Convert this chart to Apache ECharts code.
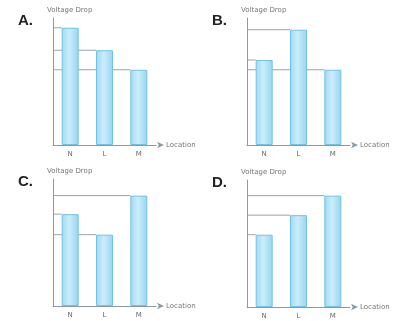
<!DOCTYPE html>
<html>
<head>
<meta charset="utf-8">
<script src="https://cdn.jsdelivr.net/npm/echarts@6/dist/echarts.min.js"></script>
<style>
  html, body { margin: 0; padding: 0; background: #fff; }
  #chart { width: 394px; height: 321px; }
</style>
</head>
<body>
<div id="chart"></div>
<script>
// panel data
const categories = ['N', 'L', 'M'];
const panelNames = ['A.', 'B.', 'C.', 'D.'];
const valuesA = [120, 97, 77];
const valuesB = [87, 118, 77];
const valuesC = [94, 73, 113];
const valuesD = [74, 94, 114];
const yTitle = 'Voltage Drop';
const xTitle = 'Location';

const panels = [valuesA, valuesB, valuesC, valuesD];
// grid positions: [left, top]
const gridPos = [[53, 18], [247, 18], [53, 179], [247, 180]];

const myChart = echarts.init(document.getElementById('chart'));

const grids = [], xAxes = [], yAxes = [], series = [], titles = [];
const font = 'DejaVu Sans';

panels.forEach((vals, i) => {
    grids.push({ left: gridPos[i][0], top: gridPos[i][1], width: 103, height: 127 });
    xAxes.push({
        type: 'category', gridIndex: i, data: categories,
        name: xTitle, nameLocation: 'end', nameGap: 10,
        nameTextStyle: { fontSize: 7, color: '#777', fontFamily: font },
        axisLine: { lineStyle: { color: '#8a9aa5', width: 1 }, symbol: ['none', 'arrow'], symbolSize: [5, 7], symbolOffset: [0, 8] },
        axisTick: { show: false },
        axisLabel: { fontSize: 7, color: '#666', margin: 6, fontFamily: font }
    });
    yAxes.push({
        type: 'value', gridIndex: i, min: 0, max: 130,
        name: yTitle, nameLocation: 'end', nameGap: 4,
        nameTextStyle: { fontSize: 7, color: '#777', align: 'left', padding: [0, 0, 0, -6], fontFamily: font },
        axisLine: { show: true, lineStyle: { color: '#8a9aa5', width: 1 } },
        axisTick: { show: false },
        axisLabel: { show: false },
        splitLine: { show: false }
    });
    series.push({
        type: 'bar', xAxisIndex: i, yAxisIndex: i, data: vals,
        barWidth: 17,
        itemStyle: {
            color: new echarts.graphic.LinearGradient(0, 0, 1, 0, [
                { offset: 0, color: '#9fd9f2' },
                { offset: 0.45, color: '#cbedfa' },
                { offset: 1, color: '#98d4ef' }
            ]),
            borderColor: '#6fc2e6', borderWidth: 1
        },
        z: 3
    });
    // reference lines from the y axis to each bar top
    series.push({
        type: 'custom', xAxisIndex: i, yAxisIndex: i, data: vals.map((v, k) => [k, v]),
        renderItem: function (params, api) {
            const p = api.coord([api.value(0), api.value(1)]);
            const half = 8.5;
            return {
                type: 'line',
                shape: { x1: params.coordSys.x, y1: p[1], x2: p[0] - half, y2: p[1] },
                style: { stroke: '#9aa3aa', lineWidth: 1 }
            };
        },
        z: 2
    });
    titles.push({
        text: panelNames[i],
        left: gridPos[i][0] - 40, top: gridPos[i][1] - 10,
        textStyle: { fontSize: 15, fontWeight: 'bold', color: '#222', fontFamily: 'Liberation Sans' }
    });
});

const option = {
    animation: false,
    title: titles,
    grid: grids,
    xAxis: xAxes,
    yAxis: yAxes,
    series
};
option && myChart.setOption(option);
</script>
</body>
</html>
